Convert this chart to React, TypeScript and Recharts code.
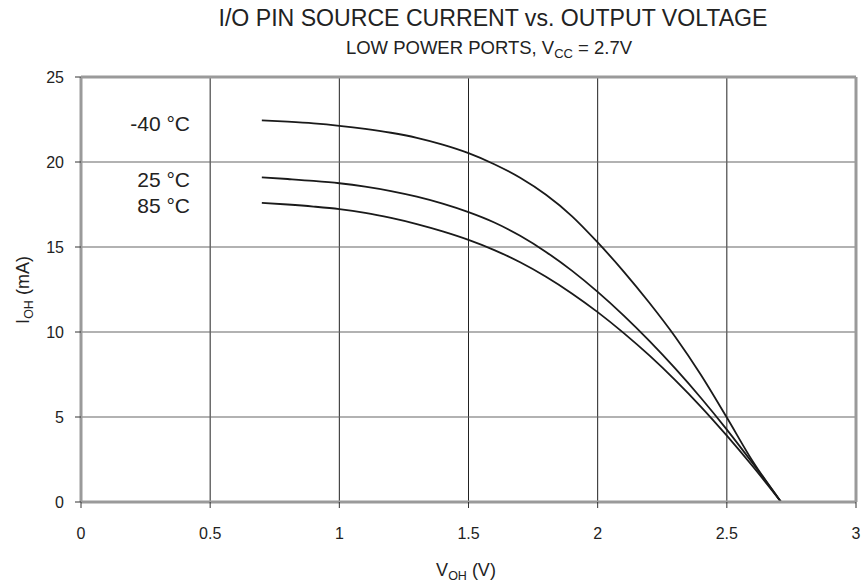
import React from 'react'
import {
  LineChart,
  Line,
  XAxis,
  YAxis,
  CartesianGrid,
  ReferenceLine,
} from 'recharts'

// V_OH sample points (V)
const voltages = [0.7, 0.8, 0.9, 1.0, 1.1, 1.2, 1.3, 1.4, 1.5, 1.6, 1.7, 1.8, 1.9, 2.0, 2.1, 2.2, 2.3, 2.4, 2.5, 2.6, 2.71]

// I_OH (mA) for each temperature
const iMinus40 = [22.45, 22.37, 22.27, 22.13, 21.95, 21.72, 21.42, 21.02, 20.52, 19.87, 19.07, 18.07, 16.82, 15.27, 13.57, 11.72, 9.72, 7.47, 4.97, 2.4, 0]
const i25 = [19.1, 19.0, 18.89, 18.75, 18.55, 18.29, 17.96, 17.55, 17.05, 16.44, 15.66, 14.71, 13.61, 12.36, 10.98, 9.48, 7.86, 6.12, 4.26, 2.28, 0]
const i85 = [17.6, 17.5, 17.38, 17.23, 17.01, 16.71, 16.35, 15.92, 15.42, 14.82, 14.1, 13.25, 12.27, 11.17, 9.95, 8.62, 7.17, 5.6, 3.9, 2.1, 0]

const xTicks = [0, 0.5, 1, 1.5, 2, 2.5, 3]
const yTicks = [0, 5, 10, 15, 20, 25]

const seriesLabels = ['-40 °C', '25 °C', '85 °C']

const FONT = '"Liberation Sans", Arial, Helvetica, sans-serif'
const W = 866
const H = 586

export default function App() {
  const data = voltages.map((v, i) => ({
    v,
    tm40: iMinus40[i],
    t25: i25[i],
    t85: i85[i],
  }))

  const tickStyle = { fontSize: 16, fill: '#222', fontFamily: FONT }
  const frame = '#9a9a9a'

  return (
    <div style={{ position: 'absolute', left: 0, top: 0, width: W, height: H, background: '#fff' }}>
      <LineChart
        width={W}
        height={H}
        data={data}
        margin={{ top: 77, right: 10, bottom: 24, left: 21 }}
      >
        <CartesianGrid horizontal={false} stroke="#222" strokeWidth={1} />
        <CartesianGrid vertical={false} stroke="#666" strokeWidth={1.2} />
        <XAxis
          type="number"
          dataKey="v"
          domain={[0, 3]}
          ticks={xTicks}
          height={60}
          tick={tickStyle}
          tickSize={6}
          tickMargin={20}
          axisLine={{ stroke: frame, strokeWidth: 3 }}
          tickLine={{ stroke: '#333' }}
          allowDecimals
        />
        <YAxis
          type="number"
          domain={[0, 25]}
          ticks={yTicks}
          width={60}
          tick={tickStyle}
          tickSize={6}
          tickMargin={11}
          axisLine={{ stroke: frame, strokeWidth: 3 }}
          tickLine={{ stroke: '#333' }}
        />
        <ReferenceLine y={25} stroke={frame} strokeWidth={3} />
        <ReferenceLine x={3} stroke={frame} strokeWidth={3} />
        <Line type="monotone" dataKey="tm40" stroke="#1a1a1a" strokeWidth={1.8} dot={false} isAnimationActive={false} />
        <Line type="monotone" dataKey="t25" stroke="#1a1a1a" strokeWidth={1.8} dot={false} isAnimationActive={false} />
        <Line type="monotone" dataKey="t85" stroke="#1a1a1a" strokeWidth={1.8} dot={false} isAnimationActive={false} />
      </LineChart>

      {/* titles, axis labels and curve labels */}
      <svg
        width={W}
        height={H}
        style={{ position: 'absolute', left: 0, top: 0, pointerEvents: 'none' }}
        fontFamily={FONT}
        fill="#222"
      >
        <text x={493} y={26} fontSize={23} textAnchor="middle" textLength={549} lengthAdjust="spacingAndGlyphs">
          I/O PIN SOURCE CURRENT vs. OUTPUT VOLTAGE
        </text>
        <text x={489} y={54} fontSize={18.5} textAnchor="middle">
          LOW POWER PORTS, V
          <tspan fontSize={13} dy={4}>CC</tspan>
          <tspan dy={-4}> = 2.7V</tspan>
        </text>

        <text x={466} y={576} fontSize={18} textAnchor="middle">
          V<tspan fontSize={12.5} dy={4}>OH</tspan>
          <tspan dy={-4}> (V)</tspan>
        </text>
        <text x={0} y={0} fontSize={18} textAnchor="middle" transform="translate(29 290) rotate(-90)">
          I<tspan fontSize={12.5} dy={4}>OH</tspan>
          <tspan dy={-4}> (mA)</tspan>
        </text>

        <text x={190} y={131} fontSize={21} textAnchor="end">{seriesLabels[0]}</text>
        <text x={190} y={187} fontSize={21} textAnchor="end">{seriesLabels[1]}</text>
        <text x={190} y={213} fontSize={21} textAnchor="end">{seriesLabels[2]}</text>
      </svg>
    </div>
  )
}
